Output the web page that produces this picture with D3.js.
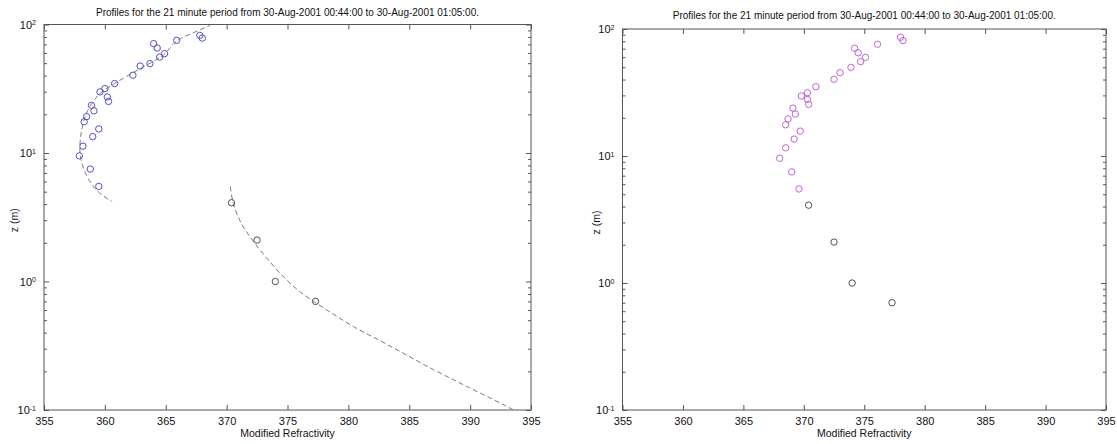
<!DOCTYPE html>
<html>
<head>
<meta charset="utf-8">
<script src="https://cdn.jsdelivr.net/npm/d3@7"></script>
<style>
  body { margin: 0; background: #fff; }
  svg { font-family: "Liberation Sans", Arial, sans-serif; }
  .title { font-size: 10px; fill: #111; }
  .label { font-size: 10.5px; fill: #111; }
  .tick text { font-size: 11px; fill: #111; }
  .tick line { stroke: #555; }
  .domain { stroke: none; }
</style>
</head>
<body>
<svg id="chart" width="1117" height="444"></svg>
<script>
const title = 'Profiles for the 21 minute period from 30-Aug-2001 00:44:00 to 30-Aug-2001 01:05:00.'
const xTicks = [355, 360, 365, 370, 375, 380, 385, 390, 395]
const yMajor = [0.1, 1, 10, 100]
const yExp = ['-1', '0', '1', '2']

// left panel, blue circles (upper profile)
const blueM = [367.8, 368.0, 365.9, 364.0, 364.3, 364.9, 364.5, 363.7, 362.9, 362.3, 360.8, 360.0, 359.6, 360.2, 360.3, 358.9, 359.1, 358.5, 358.3, 359.5, 359.0, 358.2, 357.9, 358.8, 359.5]
const blueZ = [82.3, 78.4, 75.3, 71.0, 65.6, 59.3, 55.8, 49.6, 47.5, 40.3, 34.7, 31.7, 29.9, 27.3, 25.2, 23.5, 21.3, 19.2, 17.5, 15.4, 13.4, 11.3, 9.5, 7.5, 5.5]
// black circles (lower profile), same in both panels
const blackM = [370.4, 372.5, 374.0, 377.3]
const blackZ = [4.1, 2.1, 1.0, 0.70]
// dashed fits, left panel only
const fitUpM = [369.3, 368.6, 365.9, 364.8, 362.9, 360.8, 359.6, 358.6, 358.1, 357.96, 358.4, 359.3, 360.6]
const fitUpZ = [110, 98.4, 74.3, 57.9, 45.4, 34.7, 29.0, 21.5, 15.1, 10.0, 7.0, 5.15, 4.18]
const fitLowM = [370.3, 370.55, 371.2, 372.2, 373.3, 374.5, 376.0, 378.2, 380.4, 383.2, 387.0, 389.7, 392.5, 393.4, 394.5]
const fitLowZ = [5.47, 4.06, 2.84, 2.05, 1.52, 1.13, 0.836, 0.603, 0.447, 0.323, 0.206, 0.153, 0.113, 0.102, 0.091]

// right panel, magenta circles
const magM = [378.0, 378.2, 376.1, 374.2, 374.5, 375.1, 374.7, 373.9, 373.0, 372.5, 371.0, 370.3, 369.8, 370.3, 370.4, 369.1, 369.3, 368.7, 368.5, 369.7, 369.2, 368.5, 368.0, 369.0, 369.6]
const magZ = [86.0, 81.0, 75.8, 70.5, 65.0, 59.8, 55.3, 49.9, 45.3, 40.2, 35.1, 31.5, 29.7, 27.9, 25.5, 23.8, 21.4, 19.6, 17.6, 15.7, 13.6, 11.6, 9.6, 7.5, 5.5]

const zip = (a, b) => a.map((v, i) => [v, b[i]])

const svg = d3.select('#chart')

const drawPanel = (p) => {
  const width = p.x1 - p.x0
  const height = p.y1 - p.y0
  const g = svg.append('g').attr('transform', `translate(${p.x0}, ${p.y0})`)

  const x = d3.scaleLinear().domain([355, 395]).range([0, width])
  const y = d3.scaleLog().domain([0.1, 100]).range([height, 0])

  const minor = y.ticks().filter(t => !yMajor.some(m => Math.abs(m - t) < 1e-9))

  g.append('clipPath').attr('id', p.id + 'clip')
    .append('rect').attr('width', width).attr('height', height)

  // box
  g.append('rect')
    .attr('width', width).attr('height', height)
    .attr('fill', 'none').attr('stroke', '#555').attr('stroke-width', 1)

  // x axes, ticks inward
  g.append('g').attr('transform', `translate(0, ${height})`)
    .call(d3.axisBottom(x).tickValues(xTicks).tickSize(-5).tickPadding(7).tickFormat(d3.format('d')))
  g.append('g')
    .call(d3.axisTop(x).tickValues(xTicks).tickSize(-5).tickFormat(''))

  // y axes, log
  const yLeft = g.append('g')
    .call(d3.axisLeft(y).tickValues(yMajor).tickSize(-5).tickPadding(8).tickFormat(''))
  yLeft.selectAll('.tick text').each(function (d, i) {
    const t = d3.select(this)
    t.append('tspan').text('10')
    t.append('tspan').attr('dy', '-0.45em').style('font-size', '7px').text(yExp[i])
  })
  g.append('g').call(d3.axisLeft(y).tickValues(minor).tickSize(-3).tickFormat(''))
  g.append('g').attr('transform', `translate(${width}, 0)`)
    .call(d3.axisRight(y).tickValues(yMajor).tickSize(-5).tickFormat(''))
  g.append('g').attr('transform', `translate(${width}, 0)`)
    .call(d3.axisRight(y).tickValues(minor).tickSize(-3).tickFormat(''))

  const line = d3.line().x(d => x(d[0])).y(d => y(d[1])).curve(d3.curveCatmullRom)
  const plot = g.append('g').attr('clip-path', `url(#${p.id}clip)`)

  p.fits.forEach(f => {
    plot.append('path')
      .attr('d', line(f))
      .attr('fill', 'none')
      .attr('stroke', '#7a7a7a')
      .attr('stroke-width', 1)
      .attr('stroke-dasharray', '5,3')
  })

  p.sets.forEach(s => {
    plot.selectAll(null)
      .data(s.pts)
      .enter()
      .append('circle')
      .attr('cx', d => x(d[0]))
      .attr('cy', d => y(d[1]))
      .attr('r', 3.2)
      .attr('fill', 'none')
      .attr('stroke', s.color)
      .attr('stroke-width', 1)
  })

  svg.append('text')
    .attr('class', 'title')
    .attr('x', p.x0 + width / 2)
    .attr('y', p.titleY)
    .attr('text-anchor', 'middle')
    .text(title)

  svg.append('text')
    .attr('class', 'label')
    .attr('x', p.x0 + width / 2)
    .attr('y', 437)
    .attr('text-anchor', 'middle')
    .text('Modified Refractivity')

  svg.append('text')
    .attr('class', 'label')
    .attr('transform', `translate(${p.yLabelX}, ${p.y0 + height / 2 + 3}) rotate(-90)`)
    .attr('text-anchor', 'middle')
    .text('z (m)')
}

drawPanel({
  id: 'left', x0: 44, x1: 531, y0: 24.5, y1: 410, titleY: 16, yLabelX: 18,
  fits: [zip(fitUpM, fitUpZ), zip(fitLowM, fitLowZ)],
  sets: [
    { pts: zip(blueM, blueZ), color: '#5252c4' },
    { pts: zip(blackM, blackZ), color: '#505050' }
  ]
})

drawPanel({
  id: 'right', x0: 622.5, x1: 1106, y0: 29, y1: 410, titleY: 19, yLabelX: 600,
  fits: [],
  sets: [
    { pts: zip(magM, magZ), color: '#c064d6' },
    { pts: zip(blackM, blackZ), color: '#505050' }
  ]
})
</script>
</body>
</html>
